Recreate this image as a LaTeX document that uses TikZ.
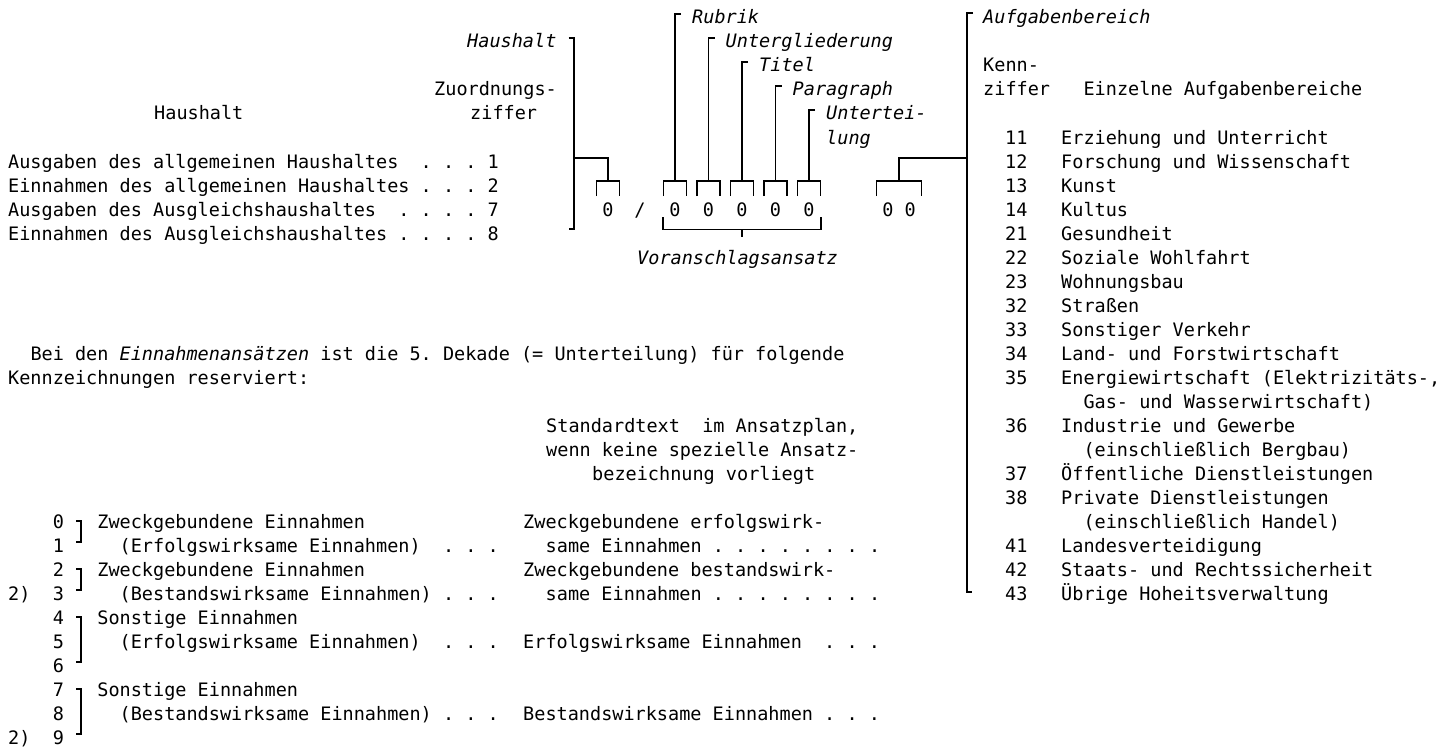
\documentclass[tikz,border=0pt]{standalone}
\usepackage{fontspec}
\setmonofont{DejaVu Sans Mono}
\usepackage{tikz}
\usetikzlibrary{calc}

\begin{document}
\frenchspacing
\begin{tikzpicture}[x=1pt, y=-1pt,
    txt/.style={anchor=base west, inner sep=0pt, font=\ttfamily\fontsize{18.52pt}{24pt}\selectfont},
    lbl/.style={txt, font=\ttfamily\itshape\fontsize{18.52pt}{24pt}\selectfont},
    dig/.style={txt, anchor=base},
    brk/.style={line width=1.8pt}]
  \useasboundingbox (0,0) rectangle (1455,749);

  \node[txt] (hkopf) at (154,120) {Haushalt};
  \node[txt] (zuo) at (434,96) {Zuordnungs-};
  \node[txt] (zif) at (470,120) {ziffer};
  \foreach \k/\entry [count=\i] in {6/{Ausgaben des allgemeinen Haushaltes~~. . . 1}, 7/{Einnahmen des allgemeinen Haushaltes . . . 2}, 8/{Ausgaben des Ausgleichshaushaltes~~. . . . 7}, 9/{Einnahmen des Ausgleichshaushaltes . . . . 8}}
    \node[txt] (hl\i) at (8,{24+24*\k}) {\entry};

  \node[dig] (z0) at (608,216) {0};
  \node[dig] (sl) at (640,216) {/};
  \node[dig] (z1) at (675,216) {0};
  \node[dig] (z2) at (708.5,216) {0};
  \node[dig] (z3) at (742,216) {0};
  \node[dig] (z4) at (775.5,216) {0};
  \node[dig] (z5) at (809,216) {0};
  \node[dig] (zz) at (899,216) {0 0};
  \foreach \d/\w in {z0/11.5, z1/11.5, z2/11.5, z3/11.5, z4/11.5, z5/11.5, zz/22.5}
    \draw[brk] ([shift={(-\w,-6)}]\d.north) -- ++(0,-15) -- ++({2*\w},0) -- ++(0,15);

  \node[lbl] (hlbl) at (467,48) {Haushalt};
  \draw[brk] ([shift={(12,-10)}]hlbl.base east) -- ++(5,0) coordinate (hbtop) -- ++(0,191) -- ++(-5,0);
  \draw[brk] ($(hbtop)+(0,120)$) -| ([shift={(0,-21)}]z0.north);

  \node[lbl] (rub) at (692,24) {Rubrik};
  \node[lbl] (ugl) at (725.5,48) {Untergliederung};
  \node[lbl] (tit) at (759,72) {Titel};
  \node[lbl] (par) at (792.5,96) {Paragraph};
  \node[lbl] (utl) at (826,120) {Untertei-};
  \node[lbl] (lung) at (826,144) {lung};
  \foreach \l/\d in {rub/z1, ugl/z2, tit/z3, par/z4, utl/z5}
    \draw[brk] ([shift={(-11,-10)}]\l.base west) -- ++(-6,0) -| ([shift={(0,-21)}]\d.north);

  \node[lbl] (vor) at (637,264) {Voranschlagsansatz};
  \draw[brk] ([shift={(-12,1)}]z1.south) -- ++(0,12) -| ([shift={(12,1)}]z5.south);
  \draw[brk] ([shift={(0,13)}]z3.south) -- ++(0,8);

  \node[lbl] (afb) at (983,24) {Aufgabenbereich};
  \draw[brk] ([shift={(-10,-11)}]afb.base west) -- ++(-6,0) coordinate (abtop) -- ++(0,579) -- ++(5,0);
  \draw[brk] ([shift={(0,-21)}]zz.north) |- ($(abtop)+(0,145)$);

  \node[txt] (kenn) at (983,72) {Kenn-};
  \node[txt] (kzif) at (983,96) {ziffer~~~Einzelne Aufgabenbereiche};
  \foreach \k/\n/\entry in {5/11/{Erziehung und Unterricht}, 6/12/{Forschung und Wissenschaft}, 7/13/{Kunst}, 8/14/{Kultus}, 9/21/{Gesundheit}, 10/22/{Soziale Wohlfahrt}, 11/23/{Wohnungsbau}, 12/32/{Straßen}, 13/33/{Sonstiger Verkehr}, 14/34/{Land- und Forstwirtschaft}, 15/35/{Energiewirtschaft (Elektrizitäts-,}, 17/36/{Industrie und Gewerbe}, 19/37/{Öffentliche Dienstleistungen}, 20/38/{Private Dienstleistungen}, 22/41/{Landesverteidigung}, 23/42/{Staats- und Rechtssicherheit}, 24/43/{Übrige Hoheitsverwaltung}}
  {
    \node[txt] (kz\n) at (1005,{24+24*\k}) {\n};
    \node[txt] (ab\n) at (1061,{24+24*\k}) {\entry};
  }
  \foreach \k/\entry [count=\i] in {16/{Gas- und Wasserwirtschaft)}, 18/{(einschließlich Bergbau)}, 21/{(einschließlich Handel)}}
    \node[txt] (abf\i) at (1083.3,{24+24*\k}) {\entry};

  \node[txt] (bei) at (30.3,360) {Bei den \textit{Einnahmenansätzen} ist die 5. Dekade (= Unterteilung) für folgende};
  \node[txt] (res) at (8,384) {Kennzeichnungen reserviert:};

  \node[txt] (std1) at (546,432) {Standardtext~~im Ansatzplan,};
  \node[txt] (std2) at (546,456) {wenn keine spezielle Ansatz-};
  \node[txt] (std3) at (592,480) {bezeichnung vorliegt};

  \foreach \n in {0,...,9}
    \node[txt] (kn\n) at (52.6,{24+24*(21+\n)}) {\n};
  \node[txt] (fn1) at (8,600) {2)};
  \node[txt] (fn2) at (8,744) {2)};
  \foreach \a/\b in {21/22, 23/24, 25/27, 28/30}
    \draw[brk] (76,{17+24*\a}) -- (81,{17+24*\a}) -- (81,{14+24*\b}) -- (76,{14+24*\b});

  \foreach \k/\x/\entry [count=\i] in {21/97.2/{Zweckgebundene Einnahmen}, 22/119.5/{(Erfolgswirksame Einnahmen)~~. . .}, 23/97.2/{Zweckgebundene Einnahmen}, 24/119.5/{(Bestandswirksame Einnahmen) . . .}, 25/97.2/{Sonstige Einnahmen}, 26/119.5/{(Erfolgswirksame Einnahmen)~~. . .}, 28/97.2/{Sonstige Einnahmen}, 29/119.5/{(Bestandswirksame Einnahmen) . . .}}
    \node[txt] (ea\i) at (\x,{24+24*\k}) {\entry};
  \foreach \k/\x/\entry [count=\i] in {21/523/{Zweckgebundene erfolgswirk-}, 22/545.5/{same Einnahmen . . . . . . . .}, 23/523/{Zweckgebundene bestandswirk-}, 24/545.5/{same Einnahmen . . . . . . . .}, 26/523/{Erfolgswirksame Einnahmen~~. . .}, 29/523/{Bestandswirksame Einnahmen . . .}}
    \node[txt] (st\i) at (\x,{24+24*\k}) {\entry};
\end{tikzpicture}
\end{document}
